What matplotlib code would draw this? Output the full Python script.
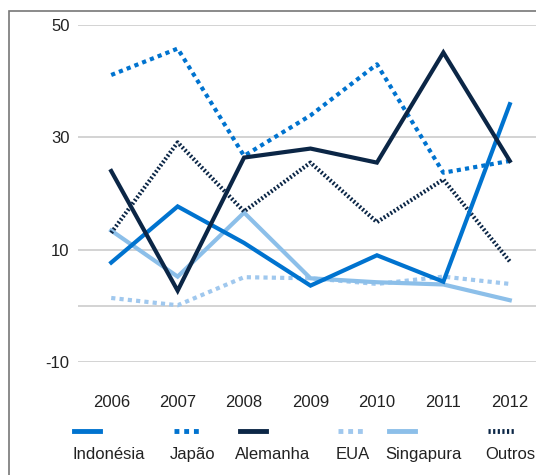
import matplotlib
matplotlib.use("Agg")
import matplotlib.pyplot as plt
from matplotlib.lines import Line2D
from matplotlib.patches import Rectangle

plt.rcParams['font.family'] = ['Liberation Sans', 'DejaVu Sans']

anos = ['2006', '2007', '2008', '2009', '2010', '2011', '2012']
indonesia = [7.7, 17.7, 11.2, 3.6, 9.0, 4.3, 35.9]
japao = [41.1, 45.8, 26.7, 33.9, 43.0, 23.7, 25.8]
alemanha = [24.0, 2.7, 26.4, 28.0, 25.5, 45.1, 25.8]
eua = [1.4, 0.1, 5.1, 4.9, 3.9, 5.2, 3.9]
singapura = [13.4, 5.2, 16.6, 4.9, 4.2, 3.8, 1.0]
outros = [13.0, 29.1, 16.8, 25.5, 14.9, 22.5, 7.9]

y_ticks = [-10, 0, 10, 30, 50]
y_labels = ['-10', '', '10', '30', '50']

W, H = 536, 475
fig = plt.figure(figsize=(W / 100, H / 100), dpi=100)
# axes runs a bit past the right edge, like the cropped original
ax = fig.add_axes([78 / W, (H - 362) / H, 465 / W, 337 / H])

lw = 3.0
series = [
    ('Indonésia', indonesia, '#0073cf', '-'),
    ('Japão', japao, '#0073cf', (0, (1, 1))),
    ('Alemanha', alemanha, '#0b2646', '-'),
    ('EUA', eua, '#a0c8ee', (0, (1, 1))),
    ('Singapura', singapura, '#8cbfe9', '-'),
    ('Outros', outros, '#0b2646', (0, (0.45, 0.5))),
]
# draw order so the light lines sit below the dark ones
order = [3, 4, 5, 1, 0, 2]
x = list(range(len(anos)))
for i in order:
    name, vals, col, ls = series[i]
    ax.plot(x, vals, color=col, lw=lw, linestyle=ls, solid_joinstyle='miter',
            dash_capstyle='butt', zorder=3)

ax.set_xlim(-0.5, 6.5)
ax.set_ylim(-10, 50)
ax.set_yticks(y_ticks)
ax.set_yticklabels(y_labels)
ax.set_xticks(x)
ax.set_xticklabels(anos)
ax.tick_params(axis='both', length=0, labelsize=12, colors='#222222')
ax.tick_params(axis='y', pad=6)
ax.tick_params(axis='x', pad=24)
ax.grid(axis='y', color='#cccccc', lw=1.2)
ax.set_axisbelow(True)
for s in ax.spines.values():
    s.set_visible(False)

# legend: line sample above each label
leg_x = [73, 170, 235, 336, 385, 485]
samp_x = [74, 174, 240, 338, 389, 488]
for (name, vals, col, ls), lx, sx in zip(series, leg_x, samp_x):
    fig.add_artist(Line2D([sx / W, (sx + 26) / W], [(H - 431) / H] * 2,
                          transform=fig.transFigure, color=col, lw=3.5,
                          linestyle=ls, dash_capstyle='butt'))
    fig.text(lx / W, (H - 459) / H, name, fontsize=12, color='#222222',
             ha='left', va='baseline')

# outer frame, cropped at right and bottom
fig.add_artist(Rectangle((8.5 / W, -0.1), 2, (H - 11) / H + 0.1,
                         transform=fig.transFigure, fill=False,
                         edgecolor='#777777', lw=1.2))

fig.savefig('out.png', dpi=100)
